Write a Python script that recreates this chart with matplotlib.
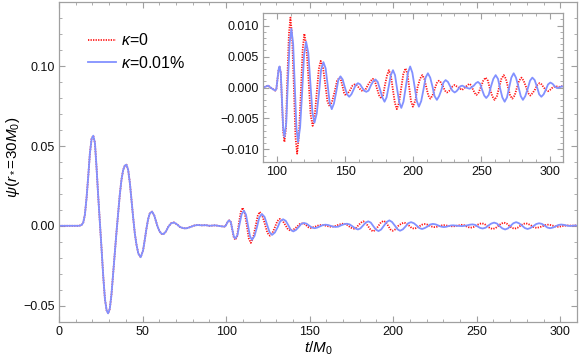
import numpy as np
import matplotlib
matplotlib.use("Agg")
import matplotlib.pyplot as plt
from matplotlib.ticker import MultipleLocator, FuncFormatter
from matplotlib.lines import Line2D

plt.rcParams['font.family'] = ['Liberation Sans', 'DejaVu Sans']
plt.rcParams['mathtext.fontset'] = 'custom'
plt.rcParams['mathtext.rm'] = 'Liberation Sans'
plt.rcParams['mathtext.it'] = 'Liberation Sans:italic'
plt.rcParams['axes.unicode_minus'] = True

# ---- data ----
# main pulse, both curves coincide here (t/M0, psi)
t_pulse = [0, 12, 13.5, 14.5, 15.5, 16.5, 17.5, 18.5, 19.5, 20.5,
           21.5, 22.5, 23.5, 24.5, 25.5, 26.5, 27.5, 28.5, 29.4, 30.4,
           31.4, 32.4, 33.4, 34.4, 35.4, 36.4, 37.4, 38.4, 39.4, 40.4,
           41.4, 42.4, 43.4, 44.4, 45.4, 46.4, 47.5, 48.9, 50.3, 51.3,
           52.3, 53.3, 54.3, 55.7, 57.0, 58.0, 59.0, 60.2, 61.4, 62.6,
           64.0, 65.5, 67.0, 68.8, 70.5, 72.5, 74.5, 76.2, 78.5, 81,
           83, 85.5, 88, 90, 93.5, 96.5]
psi_pulse = [0, 0, 0.0005, 0.002, 0.007, 0.0176, 0.031, 0.0455, 0.0545, 0.0565,
             0.052, 0.036, 0.018, 0.002, -0.015, -0.032, -0.046, -0.053, -0.0549, -0.052,
             -0.043, -0.030, -0.017, -0.004, 0.008, 0.0197, 0.029, 0.035, 0.0378, 0.0383,
             0.035, 0.027, 0.016, 0.005, -0.005, -0.012, -0.0175, -0.0197, -0.0155, -0.009,
             -0.002, 0.004, 0.0077, 0.0089, 0.0065, 0.003, -0.0005, -0.0035, -0.0050, -0.0052,
             -0.0035, -0.0005, 0.0015, 0.0021, 0.001, -0.0008, -0.0015, -0.0016, -0.0008, 0.0002,
             0.0005, 0.0003, 0.0004, 0.0, 0.0003, -0.0002]

# echoes, kappa = 0
echo_k0 = np.array([
    [98.8, -0.0005], [99.6, -0.0002], [100.4, 0.0014], [101.2, 0.0029], [101.9, 0.0034],
    [102.8, 0.0024], [103.7, -0.0025], [104.6, -0.0072], [105.5, -0.0088], [106.6, -0.0066],
    [107.6, 0.0012], [108.8, 0.0087], [109.9, 0.0113], [111.1, 0.0084], [112.4, 0.0003],
    [113.6, -0.0080], [114.8, -0.0107], [116.1, -0.0078], [117.5, -0.0010], [118.9, 0.0062],
    [120.1, 0.0087], [121.6, 0.0066], [123.2, 0.0012], [124.7, -0.0044], [126.2, -0.0062],
    [127.7, -0.0046], [129.2, -0.0009], [130.7, 0.0030], [132.1, 0.0043], [133.8, 0.0032],
    [135.4, 0.0006], [137.0, -0.0022], [138.7, -0.0031], [140.5, -0.0022], [142.3, -0.0007],
    [144.1, 0.0011], [145.9, 0.0016], [147.1, 0.0011], [148.2, 0.0001], [149.3, -0.0009],
    [150.5, -0.0013], [152.1, -0.0009], [153.7, -0.0004], [155.4, 0.0003], [157.0, 0.0005],
    [158.4, 0.0004], [160.0, 0.0000], [161.5, -0.0004], [163.0, -0.0006], [164.8, -0.0004],
    [166.7, 0.0004], [168.5, 0.0010], [170.3, 0.0014], [171.9, 0.0010], [173.4, -0.0002],
    [175.0, -0.0013], [176.6, -0.0018], [177.9, -0.0012], [179.3, 0.0005], [180.8, 0.0020],
    [182.1, 0.0028], [183.6, 0.0019], [185.0, -0.0003], [186.5, -0.0025], [187.9, -0.0035],
    [189.5, -0.0025], [191.1, -0.0002], [192.7, 0.0022], [194.3, 0.0031], [195.7, 0.0022],
    [197.0, 0.0000], [198.3, -0.0022], [199.7, -0.0031], [201.5, -0.0021], [203.1, 0.0000],
    [204.9, 0.0014], [206.6, 0.0020], [208.1, 0.0014], [209.5, 0.0001], [211.0, -0.0013],
    [212.5, -0.0018], [214.1, -0.0013], [215.6, -0.0003], [217.2, 0.0007], [218.8, 0.0011],
    [220.3, 0.0008], [221.7, 0.0002], [223.2, -0.0005], [224.7, -0.0008], [226.1, -0.0006],
    [227.5, -0.0002], [228.9, 0.0002], [230.3, 0.0004], [233.1, 0.0000], [235.8, -0.0004],
    [238.4, 0.0001], [241.0, 0.0006], [242.4, 0.0004], [243.7, -0.0003], [245.1, -0.0009],
    [246.3, -0.0012], [248.0, -0.0008], [249.7, 0.0002], [251.3, 0.0011], [253.0, 0.0016],
    [254.7, 0.0011], [256.2, -0.0002], [257.9, -0.0014], [259.6, -0.0020], [261.3, -0.0014],
    [262.9, 0.0000], [264.6, 0.0014], [266.3, 0.0020], [267.9, 0.0014], [269.4, 0.0001],
    [271.0, -0.0013], [272.6, -0.0018], [274.3, -0.0013], [275.9, -0.0001], [277.6, 0.0011],
    [279.3, 0.0016], [280.9, 0.0011], [282.5, 0.0002], [284.2, -0.0009], [285.8, -0.0013],
    [287.5, -0.0009], [289.3, -0.0003], [290.9, 0.0004], [292.6, 0.0007], [294.1, 0.0005],
    [295.7, 0.0000], [297.2, -0.0004], [298.7, -0.0006], [300.2, -0.0004], [301.6, -0.0001],
    [303.0, 0.0001], [304.4, 0.0002], [306.9, 0.0001], [308.9, 0.0002], [310.5, 0.0003],
])

# echoes, kappa = 0.01%
echo_k1 = np.array([
    [98.8, -0.0005], [99.6, -0.0002], [100.4, 0.0014], [101.2, 0.0029], [101.9, 0.0034],
    [102.8, 0.0024], [103.7, -0.0022], [104.6, -0.0066], [105.5, -0.0080], [106.8, -0.0058],
    [108.0, 0.0008], [109.3, 0.0072], [110.6, 0.0095], [111.9, 0.0070], [113.1, 0.0003],
    [114.3, -0.0066], [115.5, -0.0088], [117.0, -0.0064], [118.5, -0.0007], [119.9, 0.0053],
    [121.4, 0.0074], [123.0, 0.0056], [124.5, 0.0009], [126.0, -0.0040], [127.5, -0.0057],
    [129.2, -0.0042], [130.9, -0.0008], [132.4, 0.0029], [134.1, 0.0041], [135.7, 0.0031],
    [137.2, 0.0004], [138.7, -0.0025], [140.2, -0.0035], [141.8, -0.0026], [143.4, -0.0008],
    [145.0, 0.0012], [146.6, 0.0018], [148.2, 0.0013], [149.7, 0.0001], [151.4, -0.0011],
    [153.0, -0.0015], [154.6, -0.0011], [156.1, -0.0004], [157.8, 0.0004], [159.4, 0.0007],
    [161.0, 0.0005], [162.4, 0.0000], [164.0, -0.0005], [165.5, -0.0007], [167.2, -0.0005],
    [168.8, 0.0003], [170.6, 0.0010], [172.3, 0.0013], [173.9, 0.0009], [175.6, -0.0003],
    [177.3, -0.0016], [178.9, -0.0023], [180.4, -0.0016], [182.0, 0.0002], [183.5, 0.0020],
    [185.1, 0.0028], [186.6, 0.0020], [188.1, -0.0002], [189.7, -0.0024], [191.2, -0.0033],
    [192.8, -0.0023], [194.4, 0.0000], [196.1, 0.0024], [197.7, 0.0034], [199.3, 0.0024],
    [201.0, 0.0001], [202.6, -0.0022], [204.1, -0.0031], [205.8, -0.0022], [207.4, -0.0004],
    [209.0, 0.0016], [210.7, 0.0023], [212.4, 0.0016], [214.0, 0.0002], [215.6, -0.0014],
    [217.3, -0.0020], [218.9, -0.0014], [220.6, -0.0004], [222.1, 0.0008], [223.7, 0.0012],
    [225.4, 0.0009], [227.0, 0.0002], [228.6, -0.0005], [230.3, -0.0008], [231.7, -0.0006],
    [233.2, -0.0002], [234.5, 0.0002], [235.9, 0.0003], [238.6, 0.0000], [241.3, -0.0002],
    [244.4, 0.0003], [245.9, 0.0007], [247.4, 0.0009], [249.0, 0.0006], [250.5, -0.0004],
    [252.0, -0.0013], [253.5, -0.0017], [255.3, -0.0012], [257.0, 0.0002], [258.7, 0.0014],
    [260.4, 0.0020], [262.1, 0.0014], [263.6, -0.0001], [265.3, -0.0016], [267.0, -0.0023],
    [268.7, -0.0016], [270.3, 0.0000], [271.9, 0.0016], [273.6, 0.0023], [275.3, 0.0016],
    [277.0, 0.0002], [278.8, -0.0014], [280.4, -0.0020], [282.1, -0.0014], [283.9, -0.0002],
    [285.6, 0.0011], [287.3, 0.0016], [289.0, 0.0012], [290.7, 0.0001], [292.3, -0.0011],
    [293.9, -0.0015], [295.6, -0.0011], [297.3, -0.0003], [298.8, 0.0005], [300.5, 0.0008],
    [302.1, 0.0006], [303.7, 0.0002], [305.4, -0.0001], [307.0, 0.0000], [308.9, 0.0002],
    [310.5, 0.0001],
])

labels = [r'$\kappa$=0', r'$\kappa$=0.01%']

t_k0 = np.concatenate([t_pulse, echo_k0[:, 0]])
psi_k0 = np.concatenate([psi_pulse, echo_k0[:, 1]])
t_k1 = np.concatenate([t_pulse, echo_k1[:, 0]])
psi_k1 = np.concatenate([psi_pulse, echo_k1[:, 1]])

RED = '#ff1414'
BLUE = '#8291ff'
FRAME = '#a0a0a0'
RED_LS = (0, (0.7, 0.7))


def minus(fmt):
    return FuncFormatter(lambda v, p: (fmt % (0.0 if abs(v) < 1e-12 else v)).replace('-', '\u2212'))


def style(ax, xmaj, xmin, ymaj, ymin, yfmt):
    ax.xaxis.set_major_locator(MultipleLocator(xmaj))
    ax.xaxis.set_minor_locator(MultipleLocator(xmin))
    ax.yaxis.set_major_locator(MultipleLocator(ymaj))
    ax.yaxis.set_minor_locator(MultipleLocator(ymin))
    ax.yaxis.set_major_formatter(minus(yfmt))
    ax.tick_params(which='both', direction='in', top=True, right=True,
                   color=FRAME, labelsize=9, labelcolor='#111111', pad=3)
    ax.tick_params(which='major', length=4.5, width=0.8)
    ax.tick_params(which='minor', length=2.5, width=0.6)
    for s in ax.spines.values():
        s.set_color(FRAME)
        s.set_linewidth(0.9)


def draw(ax):
    ax.plot(t_k0, psi_k0, color=RED, lw=1.3, ls=RED_LS, label=labels[0])
    ax.plot(t_k1, psi_k1, color=BLUE, lw=1.3, label=labels[1])


fig = plt.figure(figsize=(5.81, 3.63), dpi=100)

ax = fig.add_axes([59 / 581, 41 / 363, 518 / 581, 320 / 363])
draw(ax)
ax.set_xlim(0, 310)
ax.set_ylim(-0.0603, 0.1403)
style(ax, 50, 10, 0.05, 0.01, '%.2f')
ax.set_xlabel(r'$t/M_0$', fontsize=11, labelpad=1)
ax.set_ylabel(r'$\psi(r_*\!=\!30M_0)$', fontsize=11)
ax.yaxis.set_label_coords(-0.072, 0.515)

handles = [Line2D([], [], color=RED, lw=1.3, ls=RED_LS),
           Line2D([], [], color=BLUE, lw=1.3)]
ax.legend(handles, labels, loc='upper left', bbox_to_anchor=(0.056, 0.905),
          frameon=False, fontsize=11.5, handlelength=1.75, handletextpad=0.3,
          labelspacing=0.4, borderpad=0, borderaxespad=0)

axin = fig.add_axes([263.3 / 581, (363 - 161.7) / 363, 300 / 581, 148.4 / 363])
draw(axin)
axin.set_xlim(90, 310)
axin.set_ylim(-0.012, 0.012)
style(axin, 50, 10, 0.005, 0.001, '%.3f')

fig.savefig('out.png', dpi=100)
